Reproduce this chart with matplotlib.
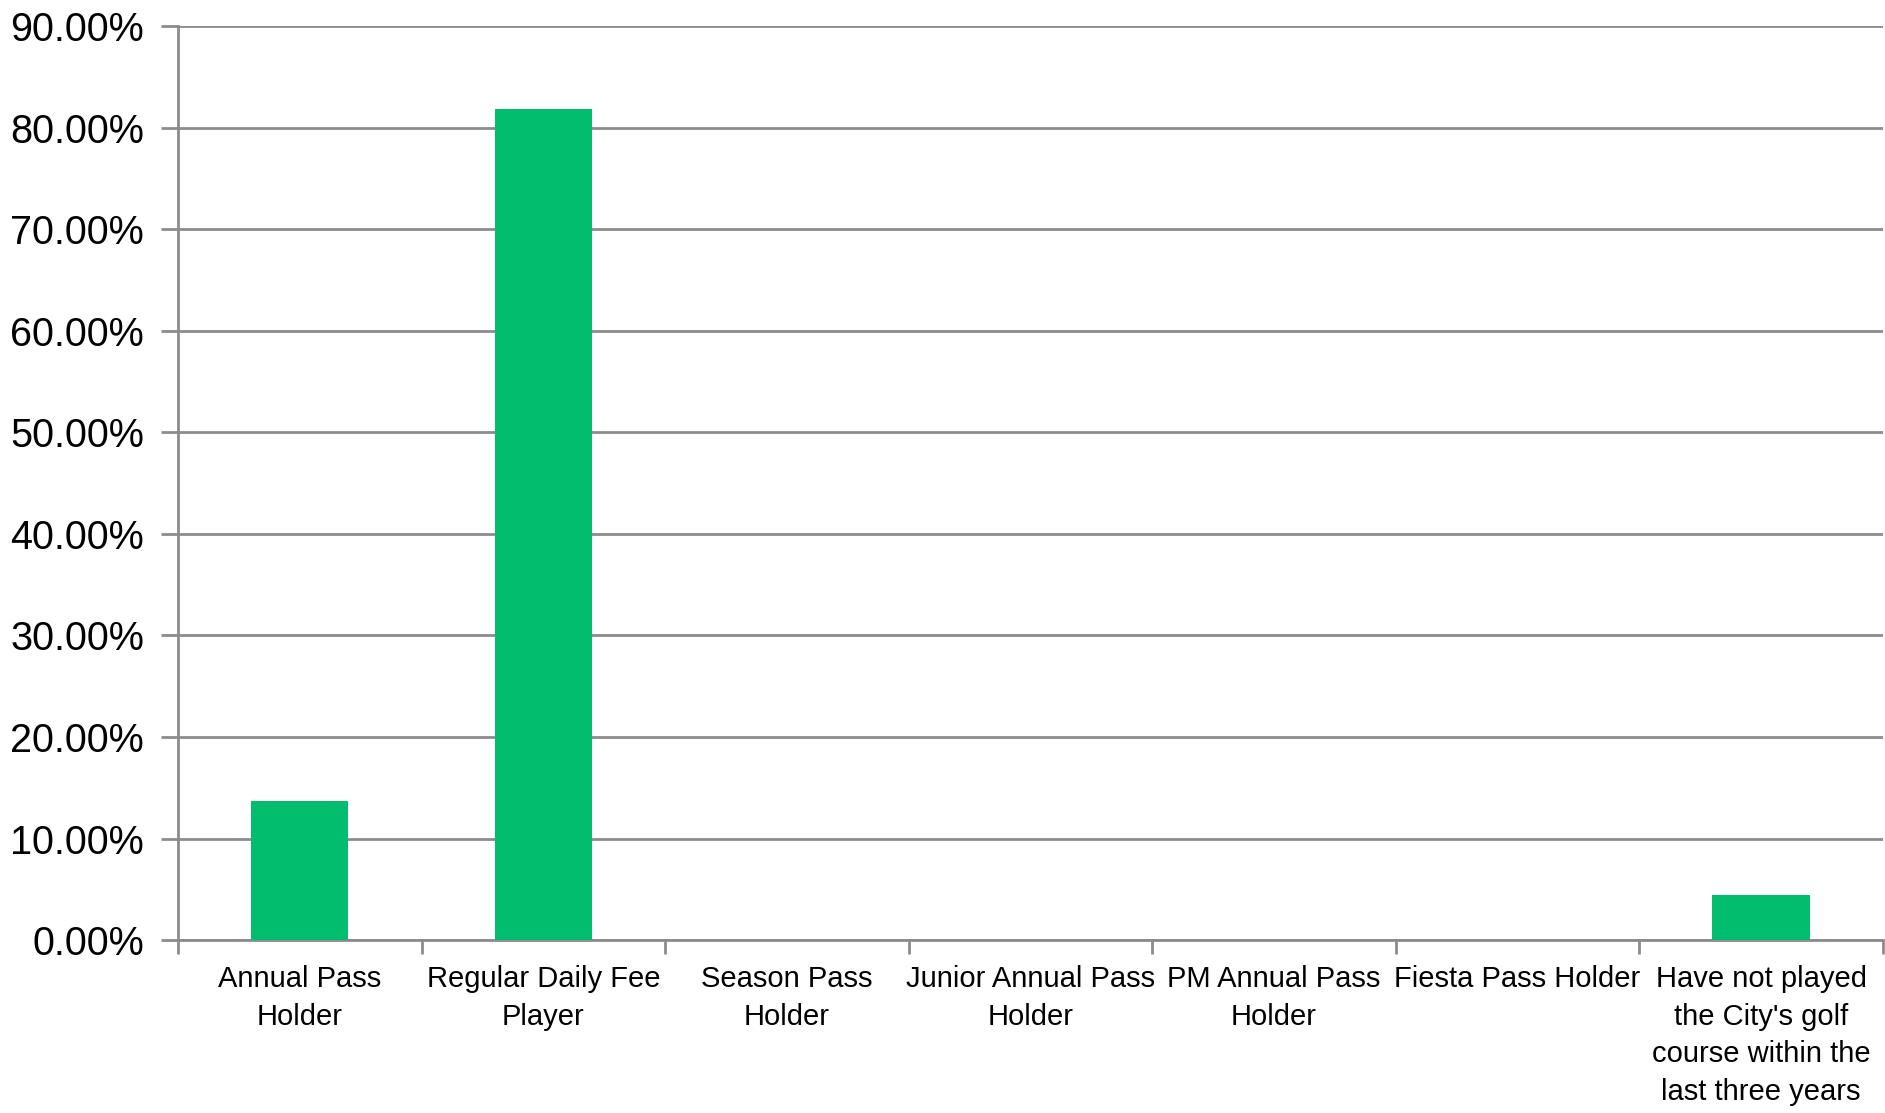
import numpy as np
import matplotlib.pyplot as plt
from matplotlib.ticker import FixedLocator, PercentFormatter

plt.rcParams['font.family'] = ['Liberation Sans', 'DejaVu Sans']

categories = [
    "Annual Pass\nHolder",
    "Regular Daily Fee\nPlayer",
    "Season Pass\nHolder",
    "Junior Annual Pass\nHolder",
    "PM Annual Pass\nHolder",
    "Fiesta Pass Holder",
    "Have not played\nthe City's golf\ncourse within the\nlast three years",
]
shares = [0.1374, 0.8183, 0.0, 0.0, 0.0, 0.0, 0.0443]
y_ticks = [0.0, 0.1, 0.2, 0.3, 0.4, 0.5, 0.6, 0.7, 0.8, 0.9]

grid_c = '#8c8c8c'
bar_c = '#02BD6E'

fig = plt.figure(figsize=(18.85, 11.13), dpi=100)
ax = fig.add_axes([0.0944, 0.1554, 0.9045, 0.8209])

x = np.arange(len(categories))
ax.bar(x, shares, width=0.4, color=bar_c, zorder=3)

ax.set_xlim(-0.5, len(categories) - 0.5)
ax.set_ylim(0, 0.9)

# category boundaries get tick marks, labels sit at the centres
ax.xaxis.set_major_locator(FixedLocator(np.arange(len(categories) + 1) - 0.5))
ax.xaxis.set_minor_locator(FixedLocator(x))
ax.set_xticklabels([], minor=False)
ax.set_xticklabels(categories, minor=True, fontsize=21, linespacing=1.44)
ax.tick_params(axis='x', which='major', length=10, width=2, color=grid_c, direction='out')
ax.tick_params(axis='x', which='minor', length=0, pad=18)

ax.set_yticks(y_ticks)
ax.yaxis.set_major_formatter(PercentFormatter(1.0, decimals=2))
ax.tick_params(axis='y', length=12, width=2, color=grid_c, pad=12.5, labelsize=28.5)

ax.grid(axis='y', color=grid_c, linewidth=2, zorder=0)
for side in ('top', 'right'):
    ax.spines[side].set_visible(False)
for side in ('left', 'bottom'):
    ax.spines[side].set_color(grid_c)
    ax.spines[side].set_linewidth(2)

plt.savefig('out.png', dpi=100)
